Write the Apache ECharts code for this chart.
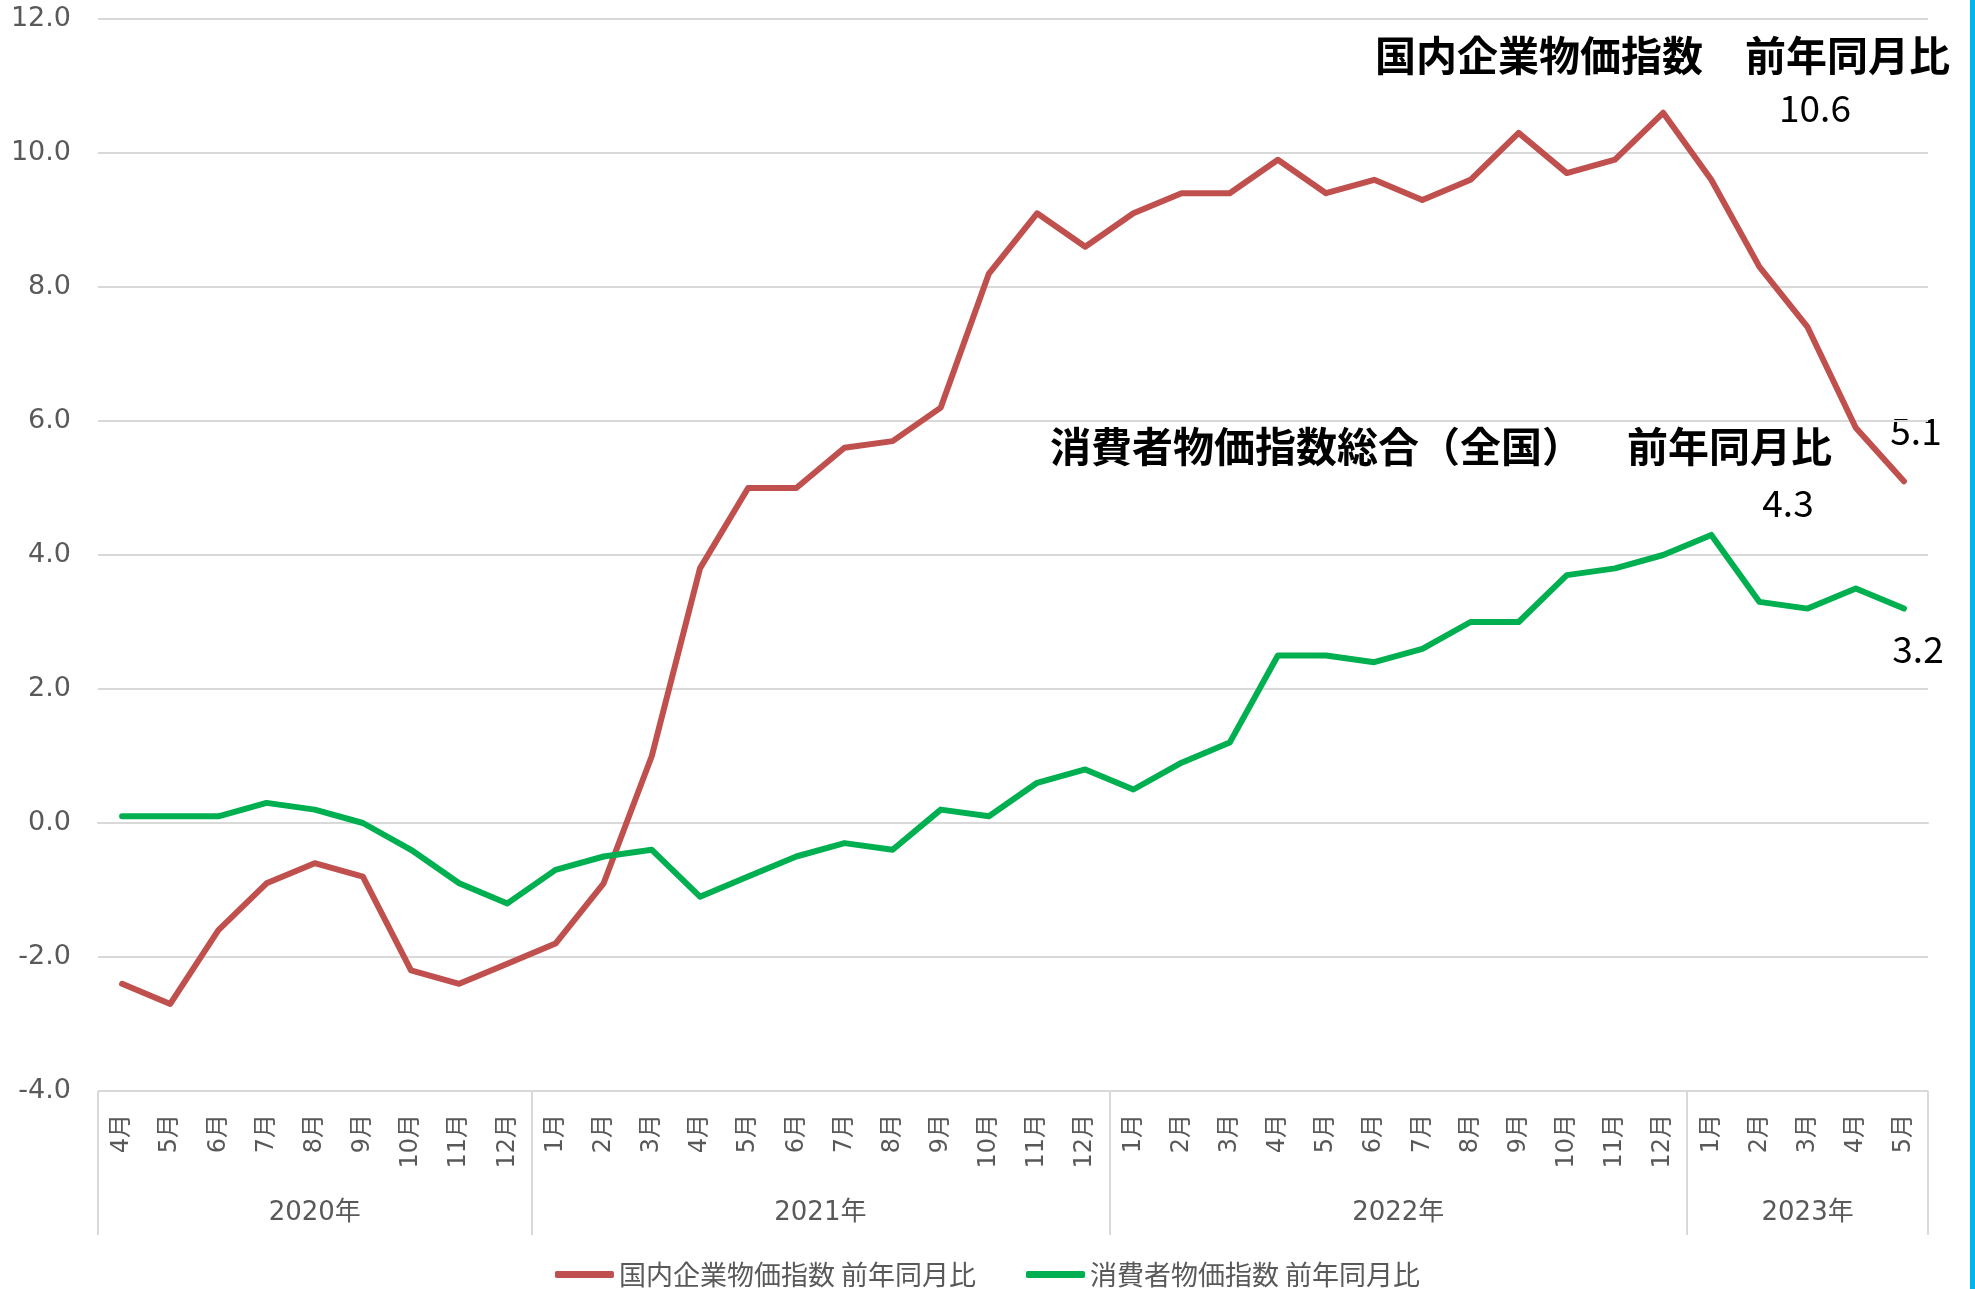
<!DOCTYPE html>
<html><head><meta charset="utf-8">
<script src="https://cdn.jsdelivr.net/npm/echarts@6/dist/echarts.min.js"></script>
<style>html,body{margin:0;padding:0;background:#fff}#c{width:1975px;height:1289px}</style>
</head><body><div id="c"></div>
<script>
const months = ['4月','5月','6月','7月','8月','9月','10月','11月','12月',
  '1月','2月','3月','4月','5月','6月','7月','8月','9月','10月','11月','12月',
  '1月','2月','3月','4月','5月','6月','7月','8月','9月','10月','11月','12月',
  '1月','2月','3月','4月','5月'];
const years = ['2020年','2021年','2022年','2023年'];
const monthsPerYear = [9, 12, 12, 5];
const cgpiName = '国内企業物価指数 前年同月比';
const cpiName = '消費者物価指数 前年同月比';
const cgpi = [-2.4,-2.7,-1.6,-0.9,-0.6,-0.8,-2.2,-2.4,-2.1,
  -1.8,-0.9,1.0,3.8,5.0,5.0,5.6,5.7,6.2,8.2,9.1,8.6,
  9.1,9.4,9.4,9.9,9.4,9.6,9.3,9.6,10.3,9.7,9.9,10.6,
  9.6,8.3,7.4,5.9,5.1];
const cpi = [0.1,0.1,0.1,0.3,0.2,0.0,-0.4,-0.9,-1.2,
  -0.7,-0.5,-0.4,-1.1,-0.8,-0.5,-0.3,-0.4,0.2,0.1,0.6,0.8,
  0.5,0.9,1.2,2.5,2.5,2.4,2.6,3.0,3.0,3.7,3.8,4.0,
  4.3,3.3,3.2,3.5,3.2];
const yMin = -4, yMax = 12, yInterval = 2;
const titleCgpiA = '国内企業物価指数';
const titleCgpiB = '前年同月比';
const titleCpiA = '消費者物価指数総合（全国）';
const titleCpiB = '前年同月比';

// year group boundaries and centres (in month units)
const bounds = [0];
monthsPerYear.forEach(n => bounds.push(bounds[bounds.length - 1] + n));
const centres = monthsPerYear.map((n, i) => bounds[i] + n / 2);

const chart = echarts.init(document.getElementById('c'), null, {renderer: 'canvas'});
const gray = '#595959';
const gridC = '#d9d9d9';
const numFont = "'DejaVu Sans', 'Noto Sans CJK JP', sans-serif";
const cjkFont = "'Noto Sans CJK JP', sans-serif";

const maxIdx = cgpi.indexOf(Math.max(...cgpi));
const cpiMaxIdx = cpi.indexOf(Math.max(...cpi));

const titleStyle = {fontSize: 41, fontWeight: 'bold', fontFamily: cjkFont, fill: '#000', verticalAlign: 'middle', align: 'left'};
const valStyle = {fontSize: 37, fontFamily: cjkFont, fill: '#000', align: 'center', verticalAlign: 'middle'};

chart.setOption({
  animation: false,
  backgroundColor: '#fff',
  grid: {left: 98, right: 47, top: 19, bottom: 198, containLabel: false},
  xAxis: [{
    type: 'category',
    data: months,
    boundaryGap: true,
    position: 'bottom',
    axisLine: {show: true, lineStyle: {color: gridC, width: 2}},
    axisTick: {show: false},
    axisLabel: {interval: 0, rotate: 90, margin: 23, color: gray, fontSize: 24, fontFamily: numFont},
    splitLine: {show: false}
  }, {
    type: 'value',
    min: 0, max: bounds[bounds.length - 1],
    position: 'bottom',
    axisLine: {show: false},
    axisTick: {show: true, customValues: bounds, length: 144, lineStyle: {color: gridC, width: 2}},
    axisLabel: {
      show: true, customValues: centres, margin: 109, color: gray, fontSize: 26, fontFamily: numFont,
      formatter: v => { const i = centres.indexOf(v); return i >= 0 ? years[i] : ''; }
    },
    splitLine: {show: false}
  }],
  yAxis: {
    type: 'value', min: yMin, max: yMax, interval: yInterval,
    axisLine: {show: false}, axisTick: {show: false},
    axisLabel: {formatter: v => v.toFixed(1), margin: 27, color: gray, fontSize: 27, fontFamily: numFont},
    splitLine: {lineStyle: {color: gridC, width: 2}}
  },
  legend: {
    left: 'center', top: 1256,
    itemWidth: 59, itemHeight: 7, itemGap: 50, icon: 'roundRect',
    textStyle: {color: gray, fontSize: 27, fontFamily: cjkFont},
    data: [cgpiName, cpiName]
  },
  series: [{
    name: cgpiName, type: 'line', data: cgpi, xAxisIndex: 0,
    symbol: 'none', smooth: false,
    lineStyle: {color: '#C0504D', width: 6, join: 'round', cap: 'round'},
    itemStyle: {color: '#C0504D'}
  }, {
    name: cpiName, type: 'line', data: cpi, xAxisIndex: 0,
    symbol: 'none', smooth: false,
    lineStyle: {color: '#00B050', width: 6, join: 'round', cap: 'round'},
    itemStyle: {color: '#00B050'}
  }],
  graphic: [
    {type: 'rect', left: 1970, top: 0, shape: {width: 5, height: 1289}, style: {fill: '#00B5F0'}},
    {type: 'text', x: 1375, y: 55, style: Object.assign({text: titleCgpiA}, titleStyle)},
    {type: 'text', x: 1745, y: 55, style: Object.assign({text: titleCgpiB}, titleStyle)},
    {type: 'text', x: 1815, y: 108, style: Object.assign({text: cgpi[maxIdx].toFixed(1)}, valStyle)},
    {type: 'text', x: 1916, y: 431, style: Object.assign({text: cgpi[cgpi.length - 1].toFixed(1)}, valStyle)},
    {type: 'text', x: 1050, y: 446, style: Object.assign({text: titleCpiA}, titleStyle)},
    {type: 'text', x: 1627, y: 446, style: Object.assign({text: titleCpiB}, titleStyle)},
    {type: 'text', x: 1788, y: 503, style: Object.assign({text: cpi[cpiMaxIdx].toFixed(1)}, valStyle)},
    {type: 'text', x: 1918, y: 649, style: Object.assign({text: cpi[cpi.length - 1].toFixed(1)}, valStyle)}
  ]
});
</script>
</body></html>
